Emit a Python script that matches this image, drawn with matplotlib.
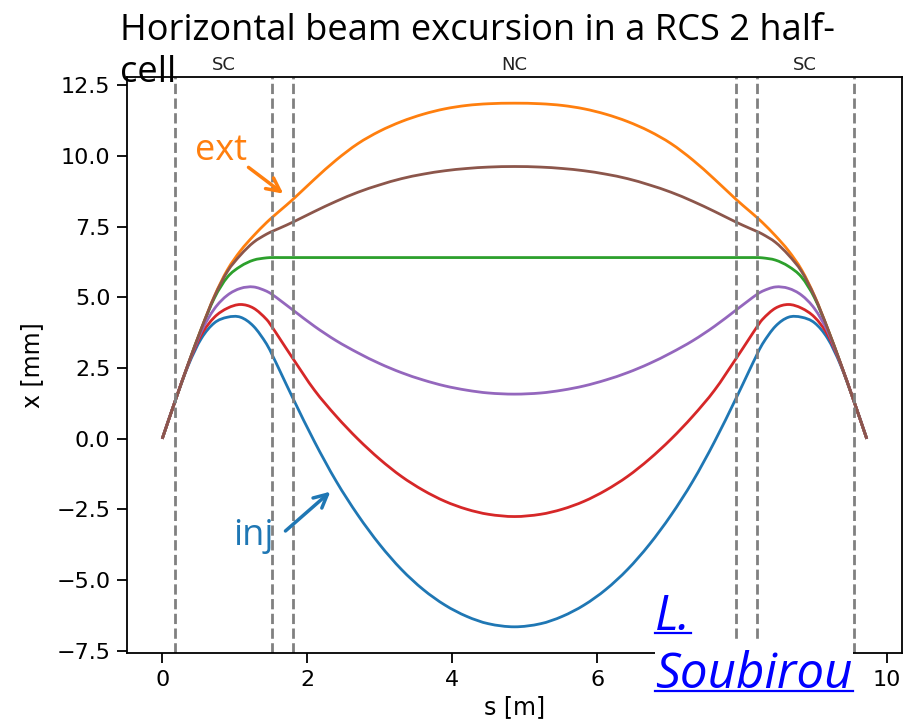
import matplotlib
matplotlib.use("Agg")
import matplotlib.pyplot as plt
from matplotlib.patches import Rectangle, PathPatch
from matplotlib.lines import Line2D
from matplotlib.path import Path

# ---------------- data ----------------
s = [0, 0.18, 0.36, 0.54, 0.72, 0.90, 1.08, 1.26, 1.44, 1.53, 1.62, 1.80, 2.10, 2.40,
     2.70, 3.00, 3.30, 3.60, 3.90, 4.20, 4.50, 4.86, 5.22, 5.52, 5.82, 6.12, 6.42, 6.72,
     7.02, 7.32, 7.62, 7.92, 8.10, 8.19, 8.28, 8.46, 8.64, 8.82, 9.00, 9.18, 9.36, 9.54, 9.72]

blue = [0, 1.35, 2.60, 3.55, 4.10, 4.30, 4.30, 3.98, 3.35, 2.90, 2.42, 1.45, -0.10, -1.50,
        -2.70, -3.74, -4.62, -5.33, -5.88, -6.28, -6.54, -6.65,
        -6.54, -6.28, -5.88, -5.33, -4.62, -3.74, -2.70, -1.50, -0.10, 1.45, 2.42, 2.90,
        3.35, 3.98, 4.30, 4.30, 4.10, 3.55, 2.60, 1.35, 0]

orange = [0, 1.35, 2.66, 3.90, 5.05, 5.98, 6.65, 7.18, 7.65, 7.86, 8.06, 8.46, 9.18, 9.86,
          10.44, 10.88, 11.22, 11.48, 11.67, 11.79, 11.85, 11.87,
          11.85, 11.79, 11.67, 11.48, 11.22, 10.88, 10.44, 9.86, 9.18, 8.46, 8.06, 7.86,
          7.65, 7.18, 6.65, 5.98, 5.05, 3.90, 2.66, 1.35, 0]

green = [0, 1.35, 2.65, 3.88, 4.98, 5.72, 6.10, 6.32, 6.40, 6.41, 6.41, 6.41, 6.41, 6.41,
         6.41, 6.41, 6.41, 6.41, 6.41, 6.41, 6.41, 6.41,
         6.41, 6.41, 6.41, 6.41, 6.41, 6.41, 6.41, 6.41, 6.41, 6.41, 6.41, 6.41,
         6.40, 6.32, 6.10, 5.72, 4.98, 3.88, 2.65, 1.35, 0]

red = [0, 1.35, 2.64, 3.68, 4.30, 4.62, 4.75, 4.62, 4.22, 3.90, 3.55, 2.85, 1.72, 0.80,
       -0.01, -0.72, -1.33, -1.82, -2.21, -2.49, -2.67, -2.75,
       -2.67, -2.49, -2.21, -1.82, -1.33, -0.72, -0.01, 0.80, 1.72, 2.85, 3.55, 3.90,
       4.22, 4.62, 4.75, 4.62, 4.30, 3.68, 2.64, 1.35, 0]

purple = [0, 1.35, 2.65, 3.80, 4.60, 5.08, 5.32, 5.37, 5.22, 5.08, 4.91, 4.56, 3.98, 3.47,
          3.04, 2.66, 2.34, 2.08, 1.87, 1.72, 1.62, 1.58,
          1.62, 1.72, 1.87, 2.08, 2.34, 2.66, 3.04, 3.47, 3.98, 4.56, 4.91, 5.08,
          5.22, 5.37, 5.32, 5.08, 4.60, 3.80, 2.65, 1.35, 0]

brown = [0, 1.35, 2.66, 3.90, 5.03, 5.92, 6.50, 6.95, 7.24, 7.35, 7.45, 7.66, 8.04, 8.40,
         8.72, 8.98, 9.20, 9.36, 9.48, 9.56, 9.61, 9.63,
         9.61, 9.56, 9.48, 9.36, 9.20, 8.98, 8.72, 8.40, 8.04, 7.66, 7.45, 7.35,
         7.24, 6.95, 6.50, 5.92, 5.03, 3.90, 2.66, 1.35, 0]

boundaries = [0.18, 1.52, 1.81, 7.91, 8.20, 9.54]
region_labels = ["SC", "NC", "SC"]
xticks = [0, 2, 4, 6, 8, 10]
yticks = [-7.5, -5.0, -2.5, 0.0, 2.5, 5.0, 7.5, 10.0, 12.5]

title_line1 = "Horizontal beam excursion in a RCS 2 half-"
title_line2 = "cell"
credit_line1 = "L."
credit_line2 = "Soubirou"


def smooth_path(xs, ys):
    """Smooth (cubic Hermite / Bezier) path passing through every data point."""
    n = len(xs)
    m = []
    for i in range(n):
        if i == 0:
            m.append((ys[1] - ys[0]) / (xs[1] - xs[0]))
        elif i == n - 1:
            m.append((ys[-1] - ys[-2]) / (xs[-1] - xs[-2]))
        else:
            m.append((ys[i + 1] - ys[i - 1]) / (xs[i + 1] - xs[i - 1]))
    verts = [(xs[0], ys[0])]
    codes = [Path.MOVETO]
    for i in range(n - 1):
        h = xs[i + 1] - xs[i]
        verts += [(xs[i] + h / 3, ys[i] + m[i] * h / 3),
                  (xs[i + 1] - h / 3, ys[i + 1] - m[i + 1] * h / 3),
                  (xs[i + 1], ys[i + 1])]
        codes += [Path.CURVE4] * 3
    return Path(verts, codes)


# ---------------- figure ----------------
W, H = 905, 724
fig = plt.figure(figsize=(W / 100, H / 100), dpi=100)
ax = fig.add_axes([127 / W, 1 - 653 / H, 775 / W, 576 / H])

colors = ["#1f77b4", "#ff7f0e", "#2ca02c", "#d62728", "#9467bd", "#8c564b"]
for ys, c in zip([blue, orange, green, red, purple, brown], colors):
    ax.add_patch(PathPatch(smooth_path(s, ys), facecolor="none", edgecolor=c, lw=2.0,
                           capstyle="butt", joinstyle="round"))
ax.autoscale_view()

for b in boundaries:
    ax.axvline(b, color="#808080", ls="--", lw=2.0)

ax.set_xticks(xticks)
ax.set_yticks(yticks)
ax.tick_params(labelsize=16, length=7, width=1.3, pad=5)
for sp in ax.spines.values():
    sp.set_linewidth(1.3)
ax.set_xlabel("s [m]", fontsize=17, labelpad=4)
ax.set_ylabel("x [mm]", fontsize=17, labelpad=9)

# region labels above the axes
mids = [(boundaries[0] + boundaries[1]) / 2, (boundaries[2] + boundaries[3]) / 2,
        (boundaries[4] + boundaries[5]) / 2]
for m, lab in zip(mids, region_labels):
    ax.text(m, 1.006, lab, transform=ax.get_xaxis_transform(), ha="center", va="bottom",
            fontsize=13, color="#222222")

# annotations
ax.text(0.81, 9.87, "ext", color=colors[1], fontsize=26, family="Open Sans",
        ha="center", va="baseline")
ax.annotate("", xy=(1.67, 8.67), xytext=(1.19, 9.6),
            arrowprops=dict(arrowstyle="->", color=colors[1], lw=2.5, mutation_scale=24,
                            shrinkA=0, shrinkB=0))
ax.text(1.255, -3.75, "inj", color=colors[0], fontsize=26, family="Open Sans",
        ha="center", va="baseline")
ax.annotate("", xy=(2.32, -1.87), xytext=(1.70, -3.26),
            arrowprops=dict(arrowstyle="->", color=colors[0], lw=2.5, mutation_scale=24,
                            shrinkA=0, shrinkB=0))

# title (slide text)
t1 = fig.text(120 / W, 1 - 40 / H, title_line1, fontsize=26, family="Open Sans",
              ha="left", va="baseline", color="black")
t2 = fig.text(120 / W, 1 - 82 / H, title_line2, fontsize=26, family="Open Sans",
              ha="left", va="baseline", color="black")

# credit link with white backing
fig.add_artist(Rectangle((655 / W, 1 - 700 / H), 198 / W, 60 / H, transform=fig.transFigure,
                         facecolor="white", edgecolor="none", zorder=5))
c1 = fig.text(655 / W, 1 - 630 / H, credit_line1, fontsize=26, family="Open Sans",
              style="italic", color="#0000ff", ha="left", va="baseline", zorder=6)
c2 = fig.text(655 / W, 1 - 688 / H, credit_line2, fontsize=26, family="Open Sans",
              style="italic", color="#0000ff", ha="left", va="baseline", zorder=6)

# fit text widths to the reference
fig.canvas.draw()
r = fig.canvas.get_renderer()
w1 = t1.get_window_extent(r).width
fs = 26 * 717 / w1
t1.set_fontsize(fs)
t2.set_fontsize(fs)
w2 = c2.get_window_extent(r).width
fs2 = 26 * 198 / w2
c1.set_fontsize(fs2)
c2.set_fontsize(fs2)
fig.canvas.draw()

# the "8" tick label is hidden behind the credit in the reference
for lbl in ax.get_xticklabels():
    if lbl.get_text() == "8":
        lbl.set_visible(False)

for ct, yb in [(c1, 630), (c2, 688)]:
    bb = ct.get_window_extent(r)
    yy = 1 - (yb + 3) / H
    fig.add_artist(Line2D([bb.x0 / W, bb.x1 / W], [yy, yy], transform=fig.transFigure,
                          color="#0000ff", lw=1.6, zorder=6))

fig.savefig("out.png", dpi=100)
